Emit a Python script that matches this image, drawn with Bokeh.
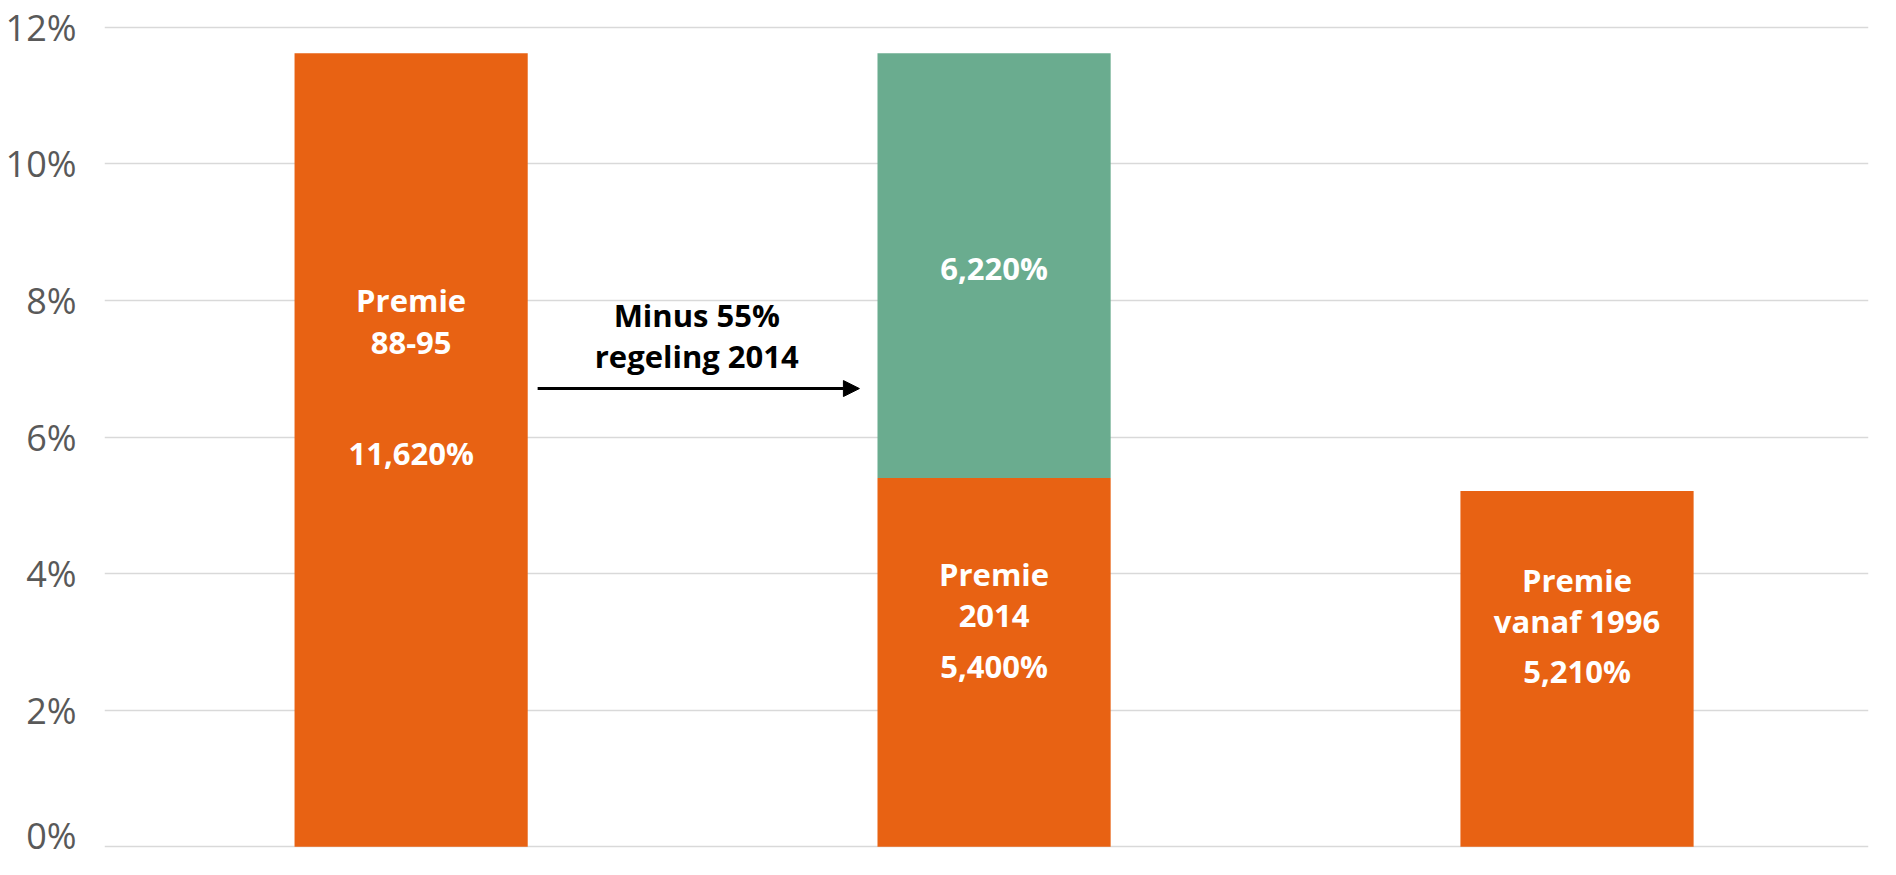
from bokeh.plotting import figure
from bokeh.models import ColumnDataSource, FixedTicker, PrintfTickFormatter, Range1d, Arrow, NormalHead
from bokeh.core.properties import value
from bokeh.embed import file_html
from bokeh.resources import INLINE

# ---- data ----
categories = ["Premie 88-95", "Premie 2014", "Premie vanaf 1996"]
premie = [11.62, 5.40, 5.21]
regeling = [0.0, 6.22, 0.0]
premie_labels = [["Premie", "88-95", "", "11,620%"], ["Premie", "2014", "5,400%"], ["Premie", "vanaf 1996", "5,210%"]]
regeling_label = "6,220%"
arrow_text = ["Minus 55%", "regeling 2014"]
y_ticks = [0, 2, 4, 6, 8, 10, 12]

ORANGE = "#E86213"
GREEN = "#6AAC8F"
FONT = "Open Sans"

xs = [1, 2, 3]
src = ColumnDataSource(dict(x=xs, cat=categories, premie=premie, regeling=regeling))

p = figure(width=1880, height=859, output_backend="svg", toolbar_location=None,
           x_range=Range1d(0.474, 3.5), y_range=Range1d(-0.1, 12.13),
           min_border_left=104, min_border_right=12, min_border_top=18, min_border_bottom=6)
p.outline_line_color = None
p.xaxis.visible = False
p.xgrid.grid_line_color = None
p.ygrid.grid_line_color = "#D9D9D9"
p.ygrid.grid_line_width = 1.5
p.ygrid.ticker = FixedTicker(ticks=y_ticks)
p.yaxis.ticker = FixedTicker(ticks=y_ticks)
p.yaxis.formatter = PrintfTickFormatter(format="%d%%")
p.yaxis.axis_line_color = None
p.yaxis.major_tick_line_color = None
p.yaxis.minor_tick_line_color = None
p.yaxis.major_label_standoff = 22
p.yaxis.major_label_text_font = FONT
p.yaxis.major_label_text_font_size = "36px"
p.yaxis.major_label_text_font_style = "normal"
p.yaxis.major_label_text_color = "#595959"

p.vbar_stack(["premie", "regeling"], x="x", width=0.4, color=[ORANGE, GREEN],
             line_color=None, source=src)

# labels inside bars (positions in data units, layout only)
label_y = [[8.0, 7.37, None, 5.76], [3.99, 3.38, 2.65], [3.90, 3.31, 2.58]]
lx, ly, lt = [], [], []
for i, lines in enumerate(premie_labels):
    for t, y in zip(lines, label_y[i]):
        if t:
            lx.append(xs[i]); ly.append(y); lt.append(t)
lx.append(xs[1]); ly.append(8.48); lt.append(regeling_label)
p.text(x=lx, y=ly, text=lt, text_color="white", text_font=value(FONT),
       text_font_style="bold", text_font_size="31px", text_align="center",
       text_baseline="middle")

# arrow annotation
p.text(x=[1.49, 1.49], y=[7.78, 7.19], text=arrow_text, text_color="black",
       text_font=value(FONT), text_font_style="bold", text_font_size="31px",
       text_align="center", text_baseline="middle")
p.add_layout(Arrow(x_start=1.217, y_start=6.71, x_end=1.769, y_end=6.71,
                   line_color="black", line_width=3,
                   end=NormalHead(size=16, fill_color="black", line_color="black")))

open("out.html", "w").write(file_html(p, INLINE))
